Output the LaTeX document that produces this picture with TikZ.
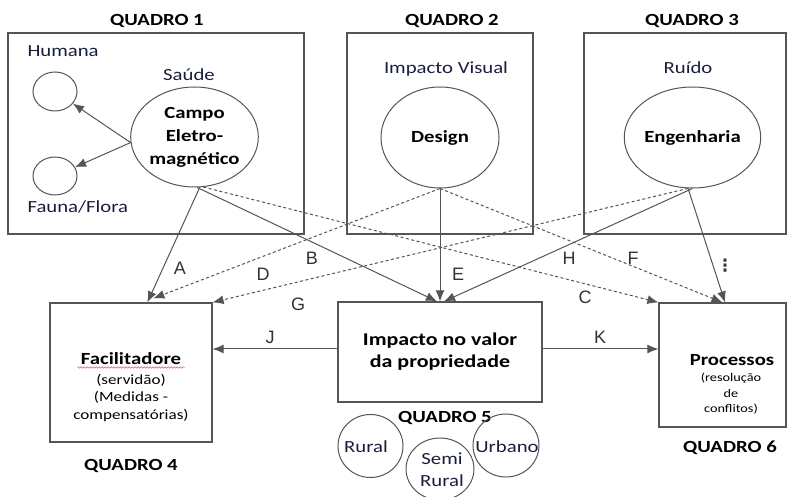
\documentclass[tikz,border=0pt]{standalone}
\usepackage{fontspec}
\setmainfont{Carlito}[FakeStretch=1.22]
\newfontfamily\arialf{Liberation Sans}
\newfontfamily\dejavu{DejaVu Sans}
\usetikzlibrary{shapes.geometric,arrows.meta,decorations.pathmorphing}
\definecolor{ink}{RGB}{25,30,60}
\definecolor{linec}{RGB}{85,85,85}
\begin{document}
\begin{tikzpicture}[x=1pt,y=-1pt,
  frame/.style={draw=linec, line width=1.2pt, inner sep=0pt, rectangle},
  oval/.style={draw=linec, line width=1pt, ellipse, inner sep=0pt},
  conn/.style={draw=linec, line width=1pt, -{Latex[length=11pt,width=9pt]}},
  dconn/.style={conn, dash pattern=on 3pt off 2.5pt},
  title/.style={font=\fontsize{17}{20}\selectfont\bfseries, anchor=base},
  plain/.style={font=\fontsize{17}{20}\selectfont, text=ink, anchor=base},
  inbold/.style={font=\fontsize{17}{23}\selectfont\bfseries, align=center},
  sub/.style={font=\fontsize{14}{17}\selectfont, anchor=base},
  subs/.style={font=\fontsize{11.7}{14}\selectfont, anchor=base},
  lab/.style={font=\arialf\fontsize{18}{20}\selectfont, text=black!80}
]
\useasboundingbox (0,0) rectangle (788,497);
\fill[white] (0,0) rectangle (788,497);

% frames
\node[frame, minimum width=296pt, minimum height=201pt] (q1) at (156,133.5) {};
\node[frame, minimum width=186pt, minimum height=201pt] (q2) at (440,133.5) {};
\node[frame, minimum width=202pt, minimum height=201pt] (q3) at (685,133.5) {};
\node[frame, minimum width=162pt, minimum height=139pt] (fac) at (131,372.5) {};
\node[frame, minimum width=204pt, minimum height=100pt, inbold, font=\fontsize{18}{22}\selectfont\bfseries] (q5) at (440,352) {Impacto no valor\\da propriedade};
\node[frame, minimum width=127pt, minimum height=124pt] (q6) at (722.5,365) {};

% titles
\node[title] (t1) at (157,26) {QUADRO 1};
\node[title] (t2) at (452,26) {QUADRO 2};
\node[title] (t3) at (692,26) {QUADRO 3};
\node[title] (t4) at (131,470) {QUADRO 4};
\node[title] (t5) at (445,422) {QUADRO 5};
\node[title] (t6) at (730,452) {QUADRO 6};

% ellipses
\node[oval, minimum width=119pt, minimum height=100pt, inbold] (campo) at (194.5,137) {Campo\\Eletro-\\magnético};
\node[oval, minimum width=44pt, minimum height=39pt] (humana) at (55,91.5) {};
\node[oval, minimum width=44pt, minimum height=38pt] (fauna) at (55,176) {};
\node[oval, minimum width=118pt, minimum height=101pt, inbold] (design) at (440,137.5) {Design};
\node[oval, minimum width=115pt, minimum height=101pt, inbold] (eng) at (692.5,137.5) {Engenharia};
\node[oval, minimum width=65pt, minimum height=63pt] (rural) at (370.5,446) {};
\node[oval, minimum width=68pt, minimum height=62pt] (semi) at (440,469) {};
\node[oval, minimum width=66pt, minimum height=63pt] (urb) at (506,445.5) {};

% plain texts
\node[plain, anchor=base west] (th) at (24,57) {Humana};
\node[plain] (ts) at (189,81) {Saúde};
\node[plain, anchor=base west] (tf) at (24,213) {Fauna/Flora};
\node[plain] (tiv) at (446,74) {Impacto Visual};
\node[plain] (tr) at (688,74) {Ruído};
\node[plain] (trur) at (366,452) {Rural};
\node[plain] (tsemi1) at (442,464) {Semi};
\node[plain] (tsemi2) at (442,486) {Rural};
\node[plain] (turb) at (507,452) {Urbano};

% Facilitadore text
\node[title] (fa1) at (131,365) {Facilitadore};
\draw[red!70, line width=0.5pt, decorate, decoration={snake, amplitude=0.8pt, segment length=3pt}] ([yshift=-2.5pt]fa1.base west) -- ([yshift=-2.5pt]fa1.base east);
\node[sub] (fa2) at (131,384.5) {(servidão)};
\node[sub] (fa3) at (131,402) {(Medidas -};
\node[sub] (fa4) at (131,419.5) {compensatórias)};

% Processos text
\node[title] (pr1) at (732,366) {Processos};
\node[subs] (pr2) at (731,381.5) {(resolução};
\node[subs] (pr3) at (731,397.5) {de};
\node[subs] (pr4) at (731,413) {conflitos)};

% connectors
\draw[conn] (campo.185) -- (humana);
\draw[conn] (campo.185) -- (fauna);
\draw[conn] (campo.-84) -- ([xshift=98pt]fac.north west);
\draw[conn] (campo.-87) -- ([xshift=-3pt]q5.north);
\draw[dconn] (campo.-80) -- (q6.north west);
\draw[dconn] (design.south) -- ([xshift=104pt,yshift=4pt]fac.north west);
\draw[conn] (design.south) -- (q5.north);
\draw[dconn] (design.south) -- (q6.north);
\draw[dconn] (eng.-95) -- (fac.north east);
\draw[conn] (eng.south) -- ([xshift=4pt]q5.north);
\draw[conn] (eng.-95) -- ([xshift=2.5pt]q6.north);
\draw[conn] ([yshift=3pt]q5.west) -- ([yshift=3pt]q5.west -| fac.east);
\draw[conn] ([yshift=3pt]q5.east) -- ([yshift=3pt]q5.east -| q6.west);

% labels
\node[lab] (lA) at (180,268) {A};
\node[lab] (lB) at (312,258) {B};
\node[lab] (lC) at (585,297) {C};
\node[lab] (lD) at (263,274) {D};
\node[lab] (lE) at (458,274) {E};
\node[lab] (lF) at (633,258) {F};
\node[lab] (lG) at (298,304) {G};
\node[lab] (lH) at (569,258) {H};
\node[lab] (lJ) at (270,337) {J};
\node[lab] (lK) at (600,337) {K};
\node[font=\dejavu\bfseries\fontsize{17}{17}\selectfont, text=black!80, inner sep=0pt] (lI) at (725,266) {⋮};
\end{tikzpicture}
\end{document}
